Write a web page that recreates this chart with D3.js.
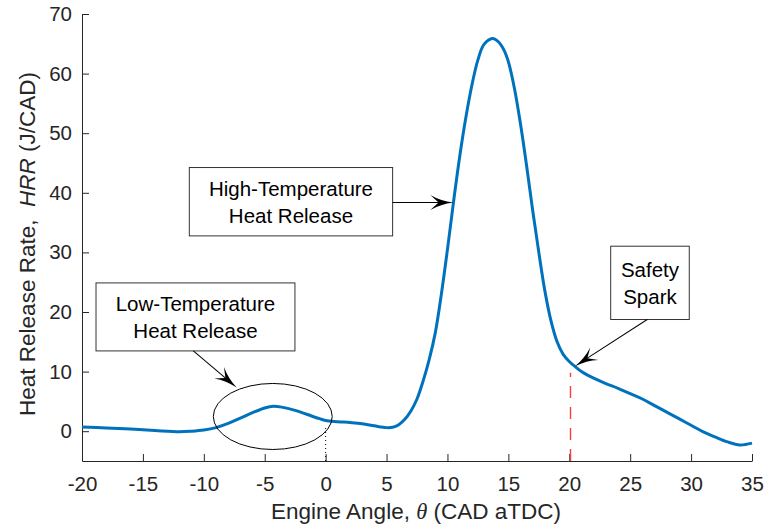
<!DOCTYPE html>
<html>
<head>
<meta charset="utf-8">
<script src="https://cdn.jsdelivr.net/npm/d3@7"></script>
<style>
  body { margin: 0; background: #fff; }
  svg { display: block; font-family: "Liberation Sans", Arial, Helvetica, sans-serif; }
</style>
</head>
<body>
<div id="chart"></div>
<script>
// heat release rate trace
const theta = [-20, -18, -16, -14, -12, -11, -10, -9, -8, -7, -6, -5, -4.3, -3.5, -2.5, -1.5, -0.5, 0,
  1, 2, 3, 4, 5, 5.5, 6, 6.5, 7, 7.5, 8, 8.5, 9, 9.5, 10, 10.5, 11, 11.5, 12, 12.5, 13, 13.7,
  14.2, 14.7, 15, 15.5, 16, 16.5, 17, 17.5, 18, 18.5, 19, 19.5, 20, 20.5, 21, 21.5, 22, 23, 24, 25,
  26, 27, 28, 29, 30, 31, 32, 33, 34, 35];
const hrr = [0.7, 0.55, 0.35, 0.1, -0.1, 0.0, 0.2, 0.6, 1.3, 2.2, 3.1, 3.9, 4.2, 4.0, 3.5, 2.8, 2.1, 1.8,
  1.6, 1.45, 1.25, 0.9, 0.6, 0.65, 1.1, 2.0, 3.4, 5.4, 8.4, 12, 16.5, 23, 30.5, 38.5, 46, 52.5, 58, 62.3, 64.9, 65.9,
  65.3, 63.7, 62, 57.5, 51.5, 44.5, 37, 30, 23.5, 18.5, 15, 12.9, 11.7, 10.8, 10.0, 9.4, 8.9, 8.0, 7.2, 6.3,
  5.4, 4.3, 3.2, 2.1, 1.0, -0.1, -1.0, -1.8, -2.3, -2.0];

const xTicks = [-20, -15, -10, -5, 0, 5, 10, 15, 20, 25, 30, 35];
const yTicks = [0, 10, 20, 30, 40, 50, 60, 70];

const tdc = 0;          // dotted marker at top dead centre
const sparkAngle = 20.1; // safety spark timing
const sparkTop = 9.8;

// text boxes with arrows, in data units
const notes = [
  { lines: ['Low-Temperature', 'Heat Release'], x0: -18.85, x1: -2.52, y0: 13.47, y1: 24.88, from: [-10.86, 13.47], to: [-7.3, 7.33] },
  { lines: ['High-Temperature', 'Heat Release'], x0: -11.19, x1: 5.5, y0: 32.77, y1: 44.24, from: [5.5, 38.37], to: [10.48, 38.37] },
  { lines: ['Safety', 'Spark'], x0: 23.4, x1: 29.85, y0: 18.74, y1: 31.04, from: [26.4, 18.74], to: [20.47, 10.91] }
];
const lthrEllipse = { cx: -4.34, cy: 2.47, rx: 4.88, ry: 5.54 };

const width = 767, height = 529;
const margin = { top: 14, right: 15, bottom: 68, left: 82 };
const INK = '#262626';
const BLUE = '#0072BD';

const svg = d3.select('#chart').append('svg')
  .attr('width', width).attr('height', height);

const x = d3.scaleLinear().domain([-20, 35]).range([margin.left, width - margin.right]);
const y = d3.scaleLinear().domain([-5, 70]).range([height - margin.bottom, margin.top]);

// axes, ticks pointing inward, plain hyphen for negatives
const fmt = d => String(d);
const xAxis = svg.append('g')
  .attr('transform', `translate(0,${height - margin.bottom})`)
  .call(d3.axisBottom(x).tickValues(xTicks).tickFormat(fmt).tickSizeInner(-7).tickSizeOuter(0).tickPadding(15));
const yAxis = svg.append('g')
  .attr('transform', `translate(${margin.left},0)`)
  .call(d3.axisLeft(y).tickValues(yTicks).tickFormat(fmt).tickSizeInner(-7).tickSizeOuter(0).tickPadding(10));

[xAxis, yAxis].forEach(a => {
  a.select('.domain').attr('stroke', INK).attr('stroke-width', 1);
  a.selectAll('.tick line').attr('stroke', INK);
  a.selectAll('.tick text').attr('fill', INK).attr('font-size', '20.5px')
    .attr('font-family', '"Liberation Sans", Arial, sans-serif');
});

// axis labels
const xl = svg.append('text')
  .attr('x', 416).attr('y', 519)
  .attr('text-anchor', 'middle').attr('fill', INK).attr('font-size', '22.5px')
  .style('white-space', 'pre');
xl.append('tspan').text('Engine Angle, ');
xl.append('tspan').attr('font-family', '"Liberation Serif", "Times New Roman", serif').attr('font-style', 'italic').text('θ');
xl.append('tspan').text(' (CAD aTDC)');

const yl = svg.append('text')
  .attr('transform', 'translate(35,244) rotate(-90)')
  .attr('text-anchor', 'middle').attr('fill', INK).attr('font-size', '22.5px')
  .style('white-space', 'pre');
yl.append('tspan').text('Heat Release Rate,  ');
yl.append('tspan').attr('font-style', 'italic').text('HRR');
yl.append('tspan').text(' (J/CAD)');

// reference lines
svg.append('line')
  .attr('x1', x(tdc)).attr('x2', x(tdc)).attr('y1', y(-5)).attr('y2', y(1.0))
  .attr('stroke', '#000').attr('stroke-width', 1).attr('stroke-dasharray', '1,3');
svg.append('line')
  .attr('x1', x(sparkAngle)).attr('x2', x(sparkAngle)).attr('y1', y(-5)).attr('y2', y(sparkTop))
  .attr('stroke', '#ff3b3b').attr('stroke-width', 1.4).attr('stroke-dasharray', '12,9');

// HRR curve
const line = d3.line()
  .x((d, i) => x(theta[i]))
  .y(d => y(d))
  .curve(d3.curveCatmullRom.alpha(0.5));
svg.append('path')
  .datum(hrr)
  .attr('d', line)
  .attr('fill', 'none').attr('stroke', BLUE).attr('stroke-width', 3)
  .attr('stroke-linejoin', 'round');

// ellipse around the LTHR bump
svg.append('ellipse')
  .attr('cx', x(lthrEllipse.cx)).attr('cy', y(lthrEllipse.cy))
  .attr('rx', x(lthrEllipse.cx + lthrEllipse.rx) - x(lthrEllipse.cx))
  .attr('ry', y(lthrEllipse.cy) - y(lthrEllipse.cy + lthrEllipse.ry))
  .attr('fill', 'none').attr('stroke', '#000').attr('stroke-width', 1);

// annotations
const L = 23, W = 15;
notes.forEach(n => {
  const bx0 = x(n.x0), bx1 = x(n.x1), by0 = y(n.y1), by1 = y(n.y0);
  svg.append('rect')
    .attr('x', bx0).attr('y', by0).attr('width', bx1 - bx0).attr('height', by1 - by0)
    .attr('fill', '#fff').attr('stroke', '#333').attr('stroke-width', 1);
  const cy = (by0 + by1) / 2;
  n.lines.forEach((t, i) => {
    svg.append('text')
      .attr('x', (bx0 + bx1) / 2).attr('y', cy + (i - 0.5) * 27)
      .attr('dy', '0.36em')
      .attr('text-anchor', 'middle').attr('fill', '#000').attr('font-size', '20.5px')
      .text(t);
  });

  const [fx, fy] = [x(n.from[0]), y(n.from[1])];
  const [tx, ty] = [x(n.to[0]), y(n.to[1])];
  const ang = Math.atan2(ty - fy, tx - fx);
  const len = Math.hypot(tx - fx, ty - fy);
  const g = svg.append('g').attr('transform', `translate(${fx},${fy}) rotate(${ang * 180 / Math.PI})`);
  g.append('line').attr('x1', 0).attr('y1', 0).attr('x2', len - L * 0.6).attr('y2', 0)
    .attr('stroke', '#000').attr('stroke-width', 1);
  g.append('path')
    .attr('d', `M${len},0 Q${len - L * 0.55},${-W * 0.1} ${len - L},${-W / 2} L${len - L * 0.64},0 L${len - L},${W / 2} Q${len - L * 0.55},${W * 0.1} ${len},0 Z`)
    .attr('fill', '#000');
});
</script>
</body>
</html>
